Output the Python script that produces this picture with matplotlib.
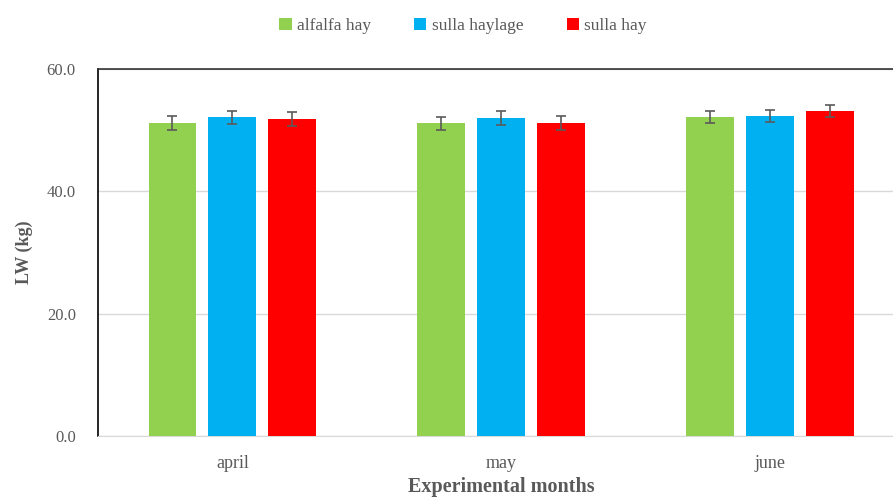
import numpy as np
import matplotlib.pyplot as plt
from matplotlib.patches import Patch

# data
months = ['april', 'may', 'june']
alfalfa_hay = [51.2, 51.1, 52.1]
sulla_haylage = [52.1, 52.0, 52.3]
sulla_hay = [51.8, 51.2, 53.1]
alfalfa_err = [1.1, 1.1, 1.0]
haylage_err = [1.1, 1.1, 1.0]
hay_err = [1.1, 1.1, 1.0]

series = [
    ('alfalfa hay', alfalfa_hay, alfalfa_err, '#92D050'),
    ('sulla haylage', sulla_haylage, haylage_err, '#00B0F0'),
    ('sulla hay', sulla_hay, hay_err, '#FF0000'),
]

plt.rcParams['font.family'] = ['Liberation Serif', 'DejaVu Serif']
txt = '#595959'

fig = plt.figure(figsize=(8.93, 4.97), dpi=100)
ax = fig.add_axes([98 / 893, 61 / 497, (904.5 - 98) / 893, 367 / 497])

x = np.arange(len(months))
width = 0.178
step = 0.223
for i, (name, vals, err, col) in enumerate(series):
    pos = x + (i - 1) * step
    ax.bar(pos, vals, width, color=col, zorder=3, label=name)
    ax.errorbar(pos, vals, yerr=err, fmt='none', ecolor='#5a5a5a',
                elinewidth=1.2, capsize=3.5, capthick=1.2, zorder=4)

ax.set_xlim(-0.5, 2.5)
ax.set_ylim(0, 60)
ax.set_yticks([0, 20, 40, 60])
ax.set_yticklabels([f'{v:.1f}' for v in [0, 20, 40, 60]])
ax.set_xticks(x)
ax.set_xticklabels(months)
ax.tick_params(axis='both', length=0, labelsize=12, colors=txt)
ax.tick_params(axis='x', pad=14, labelsize=13)
ax.tick_params(axis='y', pad=16)
ax.yaxis.grid(True, color='#d9d9d9', linewidth=1, zorder=0)

ax.spines['left'].set_color('black')
ax.spines['left'].set_linewidth(1.2)
ax.spines['top'].set_color('#333333')
ax.spines['top'].set_linewidth(1.2)
ax.spines['bottom'].set_color('#d9d9d9')
ax.spines['right'].set_visible(False)

ax.set_ylabel('LW (kg)', fontsize=13, fontweight='bold', color=txt, labelpad=10)
ax.set_xlabel('Experimental months', fontsize=14.5, fontweight='bold', color=txt, labelpad=3)

handles = [Patch(facecolor=c, label=n) for n, _, _, c in series]
fig.legend(handles=handles, loc='center', bbox_to_anchor=(463 / 893, 1 - 26 / 497),
           ncol=3, frameon=False, fontsize=12.5, handlelength=0.7, handleheight=0.7,
           handletextpad=0.3, columnspacing=2.5, labelcolor=txt)

fig.savefig('out.png', dpi=100)
